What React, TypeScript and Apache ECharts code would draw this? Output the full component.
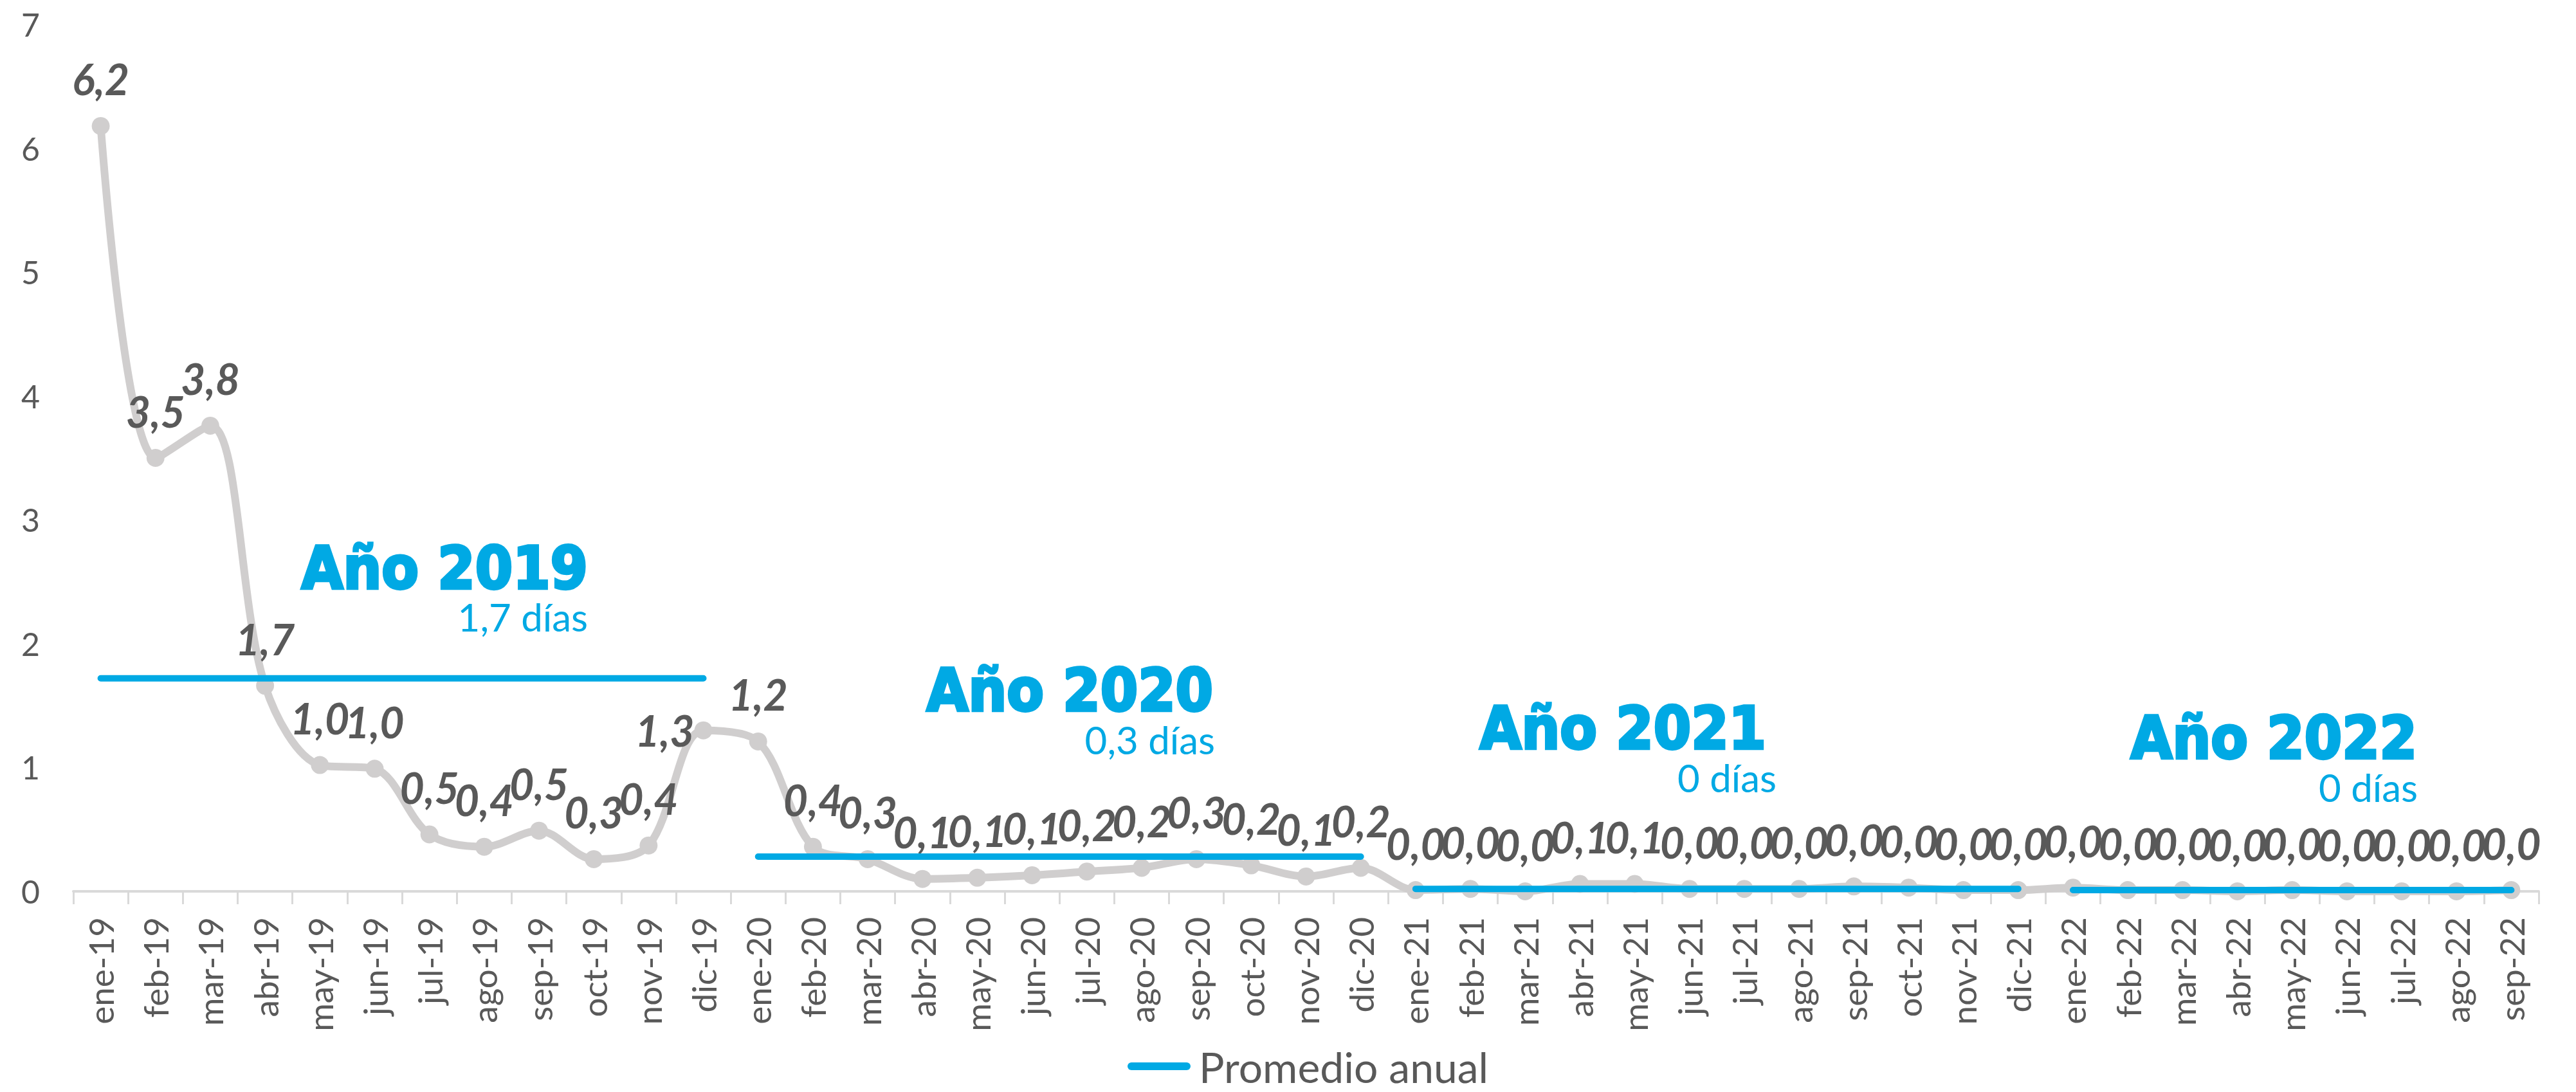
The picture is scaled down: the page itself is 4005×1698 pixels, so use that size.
import React, { useEffect, useRef } from "react";
import * as echarts from "echarts";

const categories = [
  "ene-19", "feb-19", "mar-19", "abr-19", "may-19", "jun-19", "jul-19", "ago-19", "sep-19", "oct-19", "nov-19", "dic-19",
  "ene-20", "feb-20", "mar-20", "abr-20", "may-20", "jun-20", "jul-20", "ago-20", "sep-20", "oct-20", "nov-20", "dic-20",
  "ene-21", "feb-21", "mar-21", "abr-21", "may-21", "jun-21", "jul-21", "ago-21", "sep-21", "oct-21", "nov-21", "dic-21",
  "ene-22", "feb-22", "mar-22", "abr-22", "may-22", "jun-22", "jul-22", "ago-22", "sep-22",
];

const dias2019 = [6.18, 3.5, 3.76, 1.66, 1.02, 0.99, 0.46, 0.36, 0.49, 0.26, 0.37, 1.3];
const dias2020 = [1.21, 0.36, 0.26, 0.1, 0.11, 0.13, 0.16, 0.19, 0.26, 0.21, 0.12, 0.19];
const dias2021 = [0.01, 0.02, 0.0, 0.06, 0.06, 0.02, 0.02, 0.02, 0.04, 0.03, 0.01, 0.01];
const dias2022 = [0.03, 0.01, 0.01, 0.0, 0.01, 0.0, 0.0, 0.0, 0.01];

const promedioAnual = [1.72, 0.28, 0.02, 0.01];
const anios = ["Año 2019", "Año 2020", "Año 2021", "Año 2022"];
const promedioTexto = ["1,7 días", "0,3 días", "0 días", "0 días"];

const yTicks = { min: 0, max: 7, interval: 1 };

const BLUE = "#00A9E4";
const GRAY = "#D0CECE";
const TEXT = "#595959";

export default function App() {
  const ref = useRef<HTMLDivElement>(null);

  useEffect(() => {
    if (!ref.current) return;
    const chart = echarts.init(ref.current, undefined, { renderer: "svg" });

    const yearData = [dias2019, dias2020, dias2021, dias2022];
    const values = ([] as number[]).concat(...yearData);

    const mainData = values.map((v, i) =>
      i === 11
        ? { value: v, label: { position: "left", distance: 0, offset: [0, -18] } }
        : v
    );

    const promSeries: any[] = [];
    let start = 0;
    yearData.forEach((arr, y) => {
      const d = categories.map((_, i) =>
        i >= start && i < start + arr.length ? promedioAnual[y] : null
      );
      start += arr.length;
      promSeries.push({
        name: "Promedio anual",
        type: "line",
        data: d,
        symbol: "none",
        connectNulls: false,
        lineStyle: { color: BLUE, width: 10, cap: "round" },
        itemStyle: { color: BLUE },
        z: 3,
        silent: true,
      });
    });

    // annotation layout (pixels): right edge, baseline
    const titlePos = [
      [914, 917],
      [1886, 1107],
      [2746, 1166],
      [3758, 1181],
    ];
    const subPos = [
      [914, 980],
      [1889, 1171],
      [2762, 1230],
      [3759, 1245],
    ];
    const graphics: any[] = [];
    anios.forEach((t, i) => {
      graphics.push({
        type: "text",
        x: titlePos[i][0],
        y: titlePos[i][1] - 33,
        scaleY: 1.08,
        z: 10,
        style: {
          text: t,
          fill: BLUE,
          stroke: BLUE,
          lineWidth: 4,
          font: 'bold 84px "DejaVu Sans"',
          textAlign: "right",
          align: "right",
          textVerticalAlign: "middle",
          verticalAlign: "middle",
        },
      });
      graphics.push({
        type: "text",
        x: subPos[i][0],
        y: subPos[i][1] - 21,
        z: 10,
        style: {
          text: promedioTexto[i],
          fill: BLUE,
          font: '60px "Lato"',
          textAlign: "right",
          align: "right",
          textVerticalAlign: "middle",
          verticalAlign: "middle",
        },
      });
    });

    const option: any = {
      animation: false,
      grid: { left: 114, right: 58, top: 38, bottom: 312, containLabel: false },
      legend: {
        data: ["Promedio anual"],
        left: 1748,
        top: 1620,
        icon: "path://M6,0 L92,0 A6,6 0 0 1 92,12 L6,12 A6,6 0 0 1 6,0 Z",
        itemWidth: 98,
        itemHeight: 12,
        itemStyle: { color: BLUE },
        textStyle: { fontSize: 66, fontFamily: "Lato", color: TEXT, padding: [0, 0, 0, 8] },
      },
      xAxis: {
        type: "category",
        data: categories,
        boundaryGap: true,
        axisLine: { lineStyle: { color: "#D9D9D9", width: 4 } },
        axisTick: { show: true, interval: 0, length: 20, lineStyle: { color: "#D9D9D9", width: 3 } },
        axisLabel: {
          interval: 0,
          rotate: 90,
          margin: 40,
          color: TEXT,
          fontSize: 53,
          fontFamily: "Lato",
        },
        splitLine: { show: false },
      },
      yAxis: {
        type: "value",
        min: yTicks.min,
        max: yTicks.max,
        interval: yTicks.interval,
        axisLine: { show: false },
        axisTick: { show: false },
        splitLine: { show: false },
        axisLabel: { color: TEXT, fontSize: 50, fontFamily: "Lato", margin: 52 },
      },
      series: [
        {
          name: "Días",
          type: "line",
          data: mainData,
          smooth: 0.33,
          symbol: "circle",
          symbolSize: 28,
          lineStyle: { color: GRAY, width: 12 },
          itemStyle: { color: GRAY },
          z: 2,
          label: {
            show: true,
            position: "top",
            distance: 26,
            color: TEXT,
            fontSize: 66,
            fontWeight: "bold",
            fontStyle: "italic",
            fontFamily: "Lato",
            formatter: (p: any) => Number(p.value).toFixed(1).replace(".", ","),
          },
          labelLayout: { hideOverlap: false },
        },
        ...promSeries,
      ],
      graphic: graphics,
    };

    chart.setOption(option);
    return () => chart.dispose();
  }, []);

  return (
    <div
      ref={ref}
      style={{ position: "fixed", left: 0, top: 0, width: "4005px", height: "1698px", background: "#fff" }}
    />
  );
}
